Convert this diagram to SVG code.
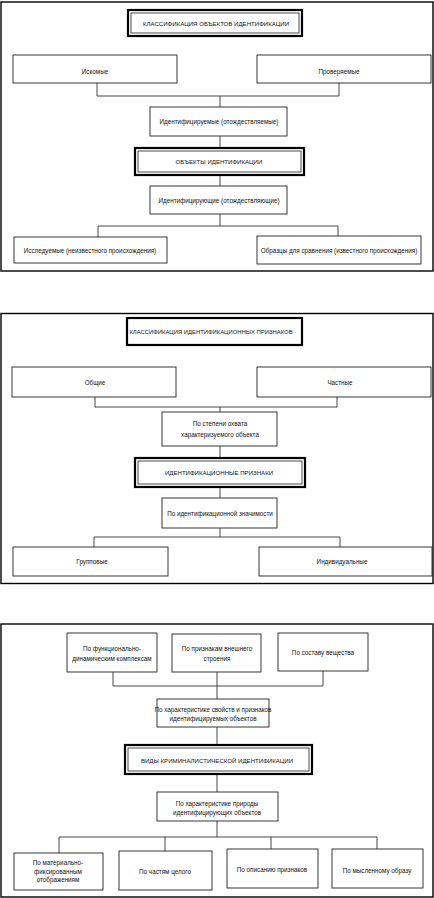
<svg xmlns="http://www.w3.org/2000/svg" width="434" height="898" viewBox="0 0 434 898">
<style>
.frame{fill:none;stroke:#000;stroke-width:1.4}
.box{fill:#fff;stroke:#222;stroke-width:0.9}
.tb{fill:#fff;stroke:#000;stroke-width:2.2}
.ti{fill:none;stroke:#222;stroke-width:0.8}
.ln{fill:none;stroke:#333;stroke-width:0.9}
text{font-family:"Liberation Sans",Arial,sans-serif;font-size:6.3px;fill:#111;text-anchor:middle;dominant-baseline:central}
text.cap{font-size:6.1px}
</style>
<rect width="434" height="898" fill="#fff"/>
<g id="frames">
<rect class="frame" x="1" y="2" width="432" height="269"/>
<rect class="frame" x="1" y="313.5" width="432" height="270"/>
<rect class="frame" x="1" y="624" width="432" height="273"/>
</g>
<g id="connectors">
<path class="ln" d="M97 83V96H339V83M220 96V107M220 136V148M220 175V186M220 214V226M98 226H338M98 226V237M338 226V236"/>
<path class="ln" d="M95 397V407H337V397M220 407V412M220 446V458M220 487V498M220 528V537M94 537H340M94 537V547M340 537V547"/>
<path class="ln" d="M113 672V686H323V671M217 672V699M217 727V745M217 774V792M217 821V837M59 837H377M59 837V853M165 837V851M271 837V849M377 837V849"/>
</g>
<g id="n1-title"><rect class="tb" x="128" y="10" width="174" height="26"/><rect class="ti" x="131" y="13" width="168" height="20"/><text class="cap" x="216" y="23">КЛАССИФИКАЦИЯ ОБЪЕКТОВ ИДЕНТИФИКАЦИИ</text></g>
<g id="n1-iskomye"><rect class="box" x="13" y="55" width="164" height="28"/><text x="95" y="71">Искомые</text></g>
<g id="n1-proveryaemye"><rect class="box" x="257" y="55" width="174" height="28"/><text x="339" y="71">Проверяемые</text></g>
<g id="n1-identificiruemye"><rect class="box" x="150" y="107" width="137" height="29"/><text x="219" y="121">Идентифицируемые (отождествляемые)</text></g>
<g id="n1-objects"><rect class="tb" x="135" y="148" width="169" height="27"/><rect class="ti" x="138" y="151" width="163" height="21"/><text class="cap" x="219" y="161">ОБЪЕКТЫ ИДЕНТИФИКАЦИИ</text></g>
<g id="n1-identificiruyushchie"><rect class="box" x="150" y="186" width="137" height="28"/><text x="219" y="200">Идентифицирующие (отождествляющие)</text></g>
<g id="n1-issleduemye"><rect class="box" x="14" y="237" width="153" height="26"/><text x="90" y="250">Исследуемые (неизвестного происхождения)</text></g>
<g id="n1-obrazcy"><rect class="box" x="257" y="236" width="164" height="28"/><text x="339" y="250">Образцы для сравнения (известного происхождения)</text></g>

<g id="n2-title"><rect class="tb" x="127" y="318" width="175" height="27"/><text class="cap" x="211" y="332" style="font-size:5.9px">КЛАССИФИКАЦИЯ ИДЕНТИФИКАЦИОННЫХ ПРИЗНАКОВ</text></g>
<g id="n2-obshchie"><rect class="box" x="12" y="367" width="164" height="30"/><text x="95" y="382">Общие</text></g>
<g id="n2-chastnye"><rect class="box" x="257" y="367" width="174" height="30"/><text x="340" y="382">Частные</text></g>
<g id="n2-stepen"><rect class="box" x="162" y="412" width="115" height="34"/><text x="220" y="423">По степени охвата</text><text x="220" y="434">характеризуемого объекта</text></g>
<g id="n2-priznaki"><rect class="tb" x="135" y="458" width="170" height="29"/><rect class="ti" x="138" y="461" width="164" height="23"/><text class="cap" x="219" y="472">ИДЕНТИФИКАЦИОННЫЕ ПРИЗНАКИ</text></g>
<g id="n2-znachimost"><rect class="box" x="162" y="498" width="115" height="30"/><text x="220" y="513">По идентификационной значимости</text></g>
<g id="n2-gruppovye"><rect class="box" x="13" y="547" width="155" height="29"/><text x="92" y="561">Групповые</text></g>
<g id="n2-individualnye"><rect class="box" x="259" y="547" width="173" height="29"/><text x="342" y="561">Индивидуальные</text></g>

<g id="n3-funkc"><rect class="box" x="67" y="633" width="90" height="39"/><text x="112" y="648">По функционально-</text><text x="112" y="658">динамическим комплексам</text></g>
<g id="n3-stroenie"><rect class="box" x="172" y="634" width="89" height="38"/><text x="217" y="648">По признакам внешнего</text><text x="217" y="658">строения</text></g>
<g id="n3-sostav"><rect class="box" x="278" y="633" width="90" height="38"/><text x="323" y="652">По составу вещества</text></g>
<g id="n3-svoystva"><rect class="box" x="157" y="699" width="112" height="28"/><text x="213" y="709">По характеристике свойств и признаков</text><text x="213" y="718">идентифицируемых объектов</text></g>
<g id="n3-vidy"><rect class="tb" x="125" y="745" width="187" height="29"/><rect class="ti" x="128" y="748" width="181" height="23"/><text class="cap" x="217" y="760">ВИДЫ КРИМИНАЛИСТИЧЕСКОЙ ИДЕНТИФИКАЦИИ</text></g>
<g id="n3-priroda"><rect class="box" x="157" y="792" width="121" height="29"/><text x="217" y="803">По характеристике природы</text><text x="217" y="812">идентифицирующих объектов</text></g>
<g id="n3-material"><rect class="box" x="14" y="853" width="89" height="37"/><text x="58" y="862">По материально-</text><text x="58" y="871">фиксированным</text><text x="58" y="879">отображениям</text></g>
<g id="n3-chasti"><rect class="box" x="119" y="851" width="93" height="39"/><text x="165" y="871">По частям целого</text></g>
<g id="n3-opisanie"><rect class="box" x="227" y="849" width="91" height="39"/><text x="272" y="869">По описанию признаков</text></g>
<g id="n3-obraz"><rect class="box" x="332" y="849" width="91" height="39"/><text x="377" y="870">По мысленному образу</text></g>
</svg>
